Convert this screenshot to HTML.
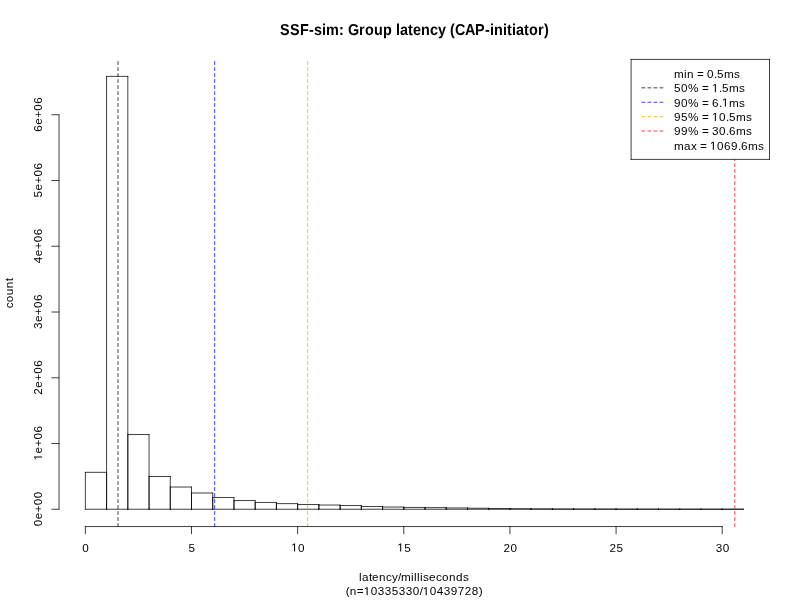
<!DOCTYPE html><html><head><meta charset="utf-8"><style>html,body{margin:0;padding:0;background:#fff;overflow:hidden;}svg{display:block;will-change:transform;}text{font-family:"Liberation Sans",sans-serif;}</style></head><body>
<svg width="800" height="600" viewBox="0 0 800 600">
<rect width="800" height="600" fill="#fff"/>
<g fill="none" stroke="#000" stroke-width="0.75" stroke-linecap="round"><path d="M85.36 509.24V472.34"/><path d="M85.36 472.34H106.59"/><path d="M106.59 472.34V509.24"/><path d="M106.59 509.24H85.36"/><path d="M106.59 509.24V76.36"/><path d="M106.59 76.36H127.82"/><path d="M127.82 76.36V509.24"/><path d="M127.82 509.24H106.59"/><path d="M127.82 509.24V434.54"/><path d="M127.82 434.54H149.05"/><path d="M149.05 434.54V509.24"/><path d="M149.05 509.24H127.82"/><path d="M149.05 509.24V476.49"/><path d="M149.05 476.49H170.28"/><path d="M170.28 476.49V509.24"/><path d="M170.28 509.24H149.05"/><path d="M170.28 509.24V487.04"/><path d="M170.28 487.04H191.50"/><path d="M191.50 487.04V509.24"/><path d="M191.50 509.24H170.28"/><path d="M191.50 509.24V493.00"/><path d="M191.50 493.00H212.73"/><path d="M212.73 493.00V509.24"/><path d="M212.73 509.24H191.50"/><path d="M212.73 509.24V497.49"/><path d="M212.73 497.49H233.96"/><path d="M233.96 497.49V509.24"/><path d="M233.96 509.24H212.73"/><path d="M233.96 509.24V500.54"/><path d="M233.96 500.54H255.19"/><path d="M255.19 500.54V509.24"/><path d="M255.19 509.24H233.96"/><path d="M255.19 509.24V502.44"/><path d="M255.19 502.44H276.42"/><path d="M276.42 502.44V509.24"/><path d="M276.42 509.24H255.19"/><path d="M276.42 509.24V503.64"/><path d="M276.42 503.64H297.64"/><path d="M297.64 503.64V509.24"/><path d="M297.64 509.24H276.42"/><path d="M297.64 509.24V504.54"/><path d="M297.64 504.54H318.87"/><path d="M318.87 504.54V509.24"/><path d="M318.87 509.24H297.64"/><path d="M318.87 509.24V505.04"/><path d="M318.87 505.04H340.10"/><path d="M340.10 505.04V509.24"/><path d="M340.10 509.24H318.87"/><path d="M340.10 509.24V505.54"/><path d="M340.10 505.54H361.33"/><path d="M361.33 505.54V509.24"/><path d="M361.33 509.24H340.10"/><path d="M361.33 509.24V506.54"/><path d="M361.33 506.54H382.56"/><path d="M382.56 506.54V509.24"/><path d="M382.56 509.24H361.33"/><path d="M382.56 509.24V507.04"/><path d="M382.56 507.04H403.79"/><path d="M403.79 507.04V509.24"/><path d="M403.79 509.24H382.56"/><path d="M403.79 509.24V507.44"/><path d="M403.79 507.44H425.01"/><path d="M425.01 507.44V509.24"/><path d="M425.01 509.24H403.79"/><path d="M425.01 509.24V507.64"/><path d="M425.01 507.64H446.24"/><path d="M446.24 507.64V509.24"/><path d="M446.24 509.24H425.01"/><path d="M446.24 509.24V507.94"/><path d="M446.24 507.94H467.47"/><path d="M467.47 507.94V509.24"/><path d="M467.47 509.24H446.24"/><path d="M467.47 509.24V508.24"/><path d="M467.47 508.24H488.70"/><path d="M488.70 508.24V509.24"/><path d="M488.70 509.24H467.47"/><path d="M488.70 509.24V508.54"/><path d="M488.70 508.54H509.93"/><path d="M509.93 508.54V509.24"/><path d="M509.93 509.24H488.70"/><path d="M509.93 509.24V508.74"/><path d="M509.93 508.74H531.16"/><path d="M531.16 508.74V509.24"/><path d="M531.16 509.24H509.93"/><path d="M531.16 509.24V508.89"/><path d="M531.16 508.89H552.38"/><path d="M552.38 508.89V509.24"/><path d="M552.38 509.24H531.16"/><path d="M552.38 509.24V508.99"/><path d="M552.38 508.99H573.61"/><path d="M573.61 508.99V509.24"/><path d="M573.61 509.24H552.38"/><path d="M573.61 509.24V509.04"/><path d="M573.61 509.04H594.84"/><path d="M594.84 509.04V509.24"/><path d="M594.84 509.24H573.61"/><path d="M594.84 509.24V509.09"/><path d="M594.84 509.09H616.07"/><path d="M616.07 509.09V509.24"/><path d="M616.07 509.24H594.84"/><path d="M616.07 509.24V509.12"/><path d="M616.07 509.12H637.30"/><path d="M637.30 509.12V509.24"/><path d="M637.30 509.24H616.07"/><path d="M637.30 509.24V509.14"/><path d="M637.30 509.14H658.52"/><path d="M658.52 509.14V509.24"/><path d="M658.52 509.24H637.30"/><path d="M658.52 509.24V509.16"/><path d="M658.52 509.16H679.75"/><path d="M679.75 509.16V509.24"/><path d="M679.75 509.24H658.52"/><path d="M679.75 509.24V509.17"/><path d="M679.75 509.17H700.98"/><path d="M700.98 509.17V509.24"/><path d="M700.98 509.24H679.75"/><path d="M700.98 509.24V509.18"/><path d="M700.98 509.18H722.21"/><path d="M722.21 509.18V509.24"/><path d="M722.21 509.24H700.98"/><path d="M722.21 509.24V509.19"/><path d="M722.21 509.19H743.44"/><path d="M743.44 509.19V509.24"/><path d="M743.44 509.24H722.21"/></g>
<g fill="none" stroke-width="0.75" stroke-dasharray="3 3" stroke-linecap="round">
<path d="M118.00 526.56V59.04" stroke="#000"/>
<path d="M214.65 526.56V59.04" stroke="#0000ff"/>
<path d="M307.70 526.56V59.04" stroke="#ffa500"/>
<path d="M734.85 526.56V59.04" stroke="#ff0000"/>
</g>
<g fill="none" stroke="#000" stroke-width="0.75" stroke-linecap="round"><path d="M85.36 526.56H722.21"/><path d="M85.36 526.56V533.76"/><path d="M191.50 526.56V533.76"/><path d="M297.64 526.56V533.76"/><path d="M403.79 526.56V533.76"/><path d="M509.93 526.56V533.76"/><path d="M616.07 526.56V533.76"/><path d="M722.21 526.56V533.76"/><path d="M59.04 509.24V114.79"/><path d="M59.04 509.24H51.84"/><path d="M59.04 443.50H51.84"/><path d="M59.04 377.76H51.84"/><path d="M59.04 312.02H51.84"/><path d="M59.04 246.28H51.84"/><path d="M59.04 180.54H51.84"/><path d="M59.04 114.79H51.84"/></g>
<rect x="631.10" y="59.4" width="138.40" height="100.00" fill="#fff"/>
<g fill="none" stroke="#000" stroke-width="0.75" stroke-linecap="round"><path d="M631.10 59.4H769.5"/><path d="M769.5 59.4V159.4"/><path d="M769.5 159.4H631.10"/><path d="M631.10 159.4V59.4"/></g>
<g fill="none" stroke-width="0.75" stroke-dasharray="3 3" stroke-linecap="round"><path d="M641.90 87.84H663.50" stroke="#000"/><path d="M641.90 102.24H663.50" stroke="#0000ff"/><path d="M641.90 116.64H663.50" stroke="#ffa500"/><path d="M641.90 131.04H663.50" stroke="#ff0000"/></g>
<g fill="#000"><text x="82.31" y="551.50" font-size="11.7">0</text><text x="188.45" y="551.50" font-size="11.7">5</text><text x="298.09" y="551.50" font-size="11.7">0</text><path d="M294.04 551.50 L294.04 544.43 L292.22 545.73 L292.22 544.76 L294.12 543.45 L295.07 543.45 L295.07 551.50Z"/><text x="404.24" y="551.50" font-size="11.7">5</text><path d="M400.18 551.50 L400.18 544.43 L398.36 545.73 L398.36 544.76 L400.26 543.45 L401.21 543.45 L401.21 551.50Z"/><text x="503.38 510.38" y="551.50" font-size="11.7">20</text><text x="609.52 616.52" y="551.50" font-size="11.7">25</text><text x="715.66 722.66" y="551.50" font-size="11.7">30</text><g transform="translate(42.1,508.64) rotate(-90)"><text x="-17.50 -10.50 -3.50 3.50 10.50" y="0.00" font-size="11.7">0e+00</text></g><g transform="translate(42.1,442.90) rotate(-90)"><text x="-10.50 -3.50 3.50 10.50" y="0.00" font-size="11.7">e+06</text><path d="M-14.56 0.00 L-14.56 -7.07 L-16.37 -5.77 L-16.37 -6.74 L-14.47 -8.05 L-13.52 -8.05 L-13.52 0.00Z"/></g><g transform="translate(42.1,377.16) rotate(-90)"><text x="-17.50 -10.50 -3.50 3.50 10.50" y="0.00" font-size="11.7">2e+06</text></g><g transform="translate(42.1,311.42) rotate(-90)"><text x="-17.50 -10.50 -3.50 3.50 10.50" y="0.00" font-size="11.7">3e+06</text></g><g transform="translate(42.1,245.68) rotate(-90)"><text x="-17.50 -10.50 -3.50 3.50 10.50" y="0.00" font-size="11.7">4e+06</text></g><g transform="translate(42.1,179.94) rotate(-90)"><text x="-17.50 -10.50 -3.50 3.50 10.50" y="0.00" font-size="11.7">5e+06</text></g><g transform="translate(42.1,114.19) rotate(-90)"><text x="-17.50 -10.50 -3.50 3.50 10.50" y="0.00" font-size="11.7">6e+06</text></g><g transform="translate(0,35) scale(1,1.1)"><text x="279.90 289.90 299.90 308.90 313.90 321.90 325.90 338.90 343.90 347.90 358.90 364.90 373.90 382.90 391.90 395.90 399.90 407.90 412.90 420.90 429.90 437.90 445.90 449.90 454.90 464.90 474.90 484.90 489.90 493.90 502.90 506.90 511.90 515.90 523.90 528.90 537.90 543.90" y="0.00" font-size="14.4" font-weight="bold" text-rendering="geometricPrecision">SSF-sim: Group latency (CAP-initiator)</text></g><text x="358.90 361.90 368.90 371.90 378.90 385.90 391.90 397.90 400.90 410.90 413.90 416.90 419.90 422.90 428.90 435.90 441.90 448.90 455.90 462.90" y="580.90" font-size="11.7">latency/milliseconds</text><text x="345.70 349.70 356.70 370.70 377.70 384.70 391.70 398.70 405.70 412.70 419.70 429.70 436.70 443.70 450.70 457.70 464.70 471.70 478.70" y="595.30" font-size="11.7">(n=0335330/0439728)</text><path d="M366.64 595.30 L366.64 588.23 L364.83 589.53 L364.83 588.56 L366.73 587.25 L367.68 587.25 L367.68 595.30Z"/><path d="M425.64 595.30 L425.64 588.23 L423.83 589.53 L423.83 588.56 L425.73 587.25 L426.68 587.25 L426.68 595.30Z"/><g transform="translate(12.9,293.30) rotate(-90)"><text x="-15.00 -9.00 -2.00 5.00 12.00" y="0.00" font-size="11.7">count</text></g><text x="673.90 683.90 686.90 693.90 696.90 703.90 706.90 713.90 716.90 723.90 733.90" y="77.74" font-size="11.7">min = 0.5ms</text><text x="673.90 680.90 687.90 698.90 701.90 708.90 718.90 721.90 728.90 738.90" y="92.14" font-size="11.7">50% = .5ms</text><path d="M714.84 92.14 L714.84 85.07 L713.03 86.37 L713.03 85.40 L714.93 84.09 L715.88 84.09 L715.88 92.14Z"/><text x="673.90 680.90 687.90 698.90 701.90 708.90 711.90 718.90 728.90 738.90" y="106.54" font-size="11.7">90% = 6.ms</text><path d="M724.84 106.54 L724.84 99.47 L723.03 100.77 L723.03 99.80 L724.93 98.49 L725.88 98.49 L725.88 106.54Z"/><text x="673.90 680.90 687.90 698.90 701.90 708.90 718.90 725.90 728.90 735.90 745.90" y="120.94" font-size="11.7">95% = 0.5ms</text><path d="M714.84 120.94 L714.84 113.87 L713.03 115.17 L713.03 114.20 L714.93 112.89 L715.88 112.89 L715.88 120.94Z"/><text x="673.90 680.90 687.90 698.90 701.90 708.90 711.90 718.90 725.90 728.90 735.90 745.90" y="135.34" font-size="11.7">99% = 30.6ms</text><text x="673.90 683.90 690.90 696.90 699.90 706.90 716.90 723.90 730.90 737.90 740.90 747.90 757.90" y="149.74" font-size="11.7">max = 069.6ms</text><path d="M712.84 149.74 L712.84 142.67 L711.03 143.97 L711.03 143.00 L712.93 141.69 L713.88 141.69 L713.88 149.74Z"/></g>
</svg></body></html>
